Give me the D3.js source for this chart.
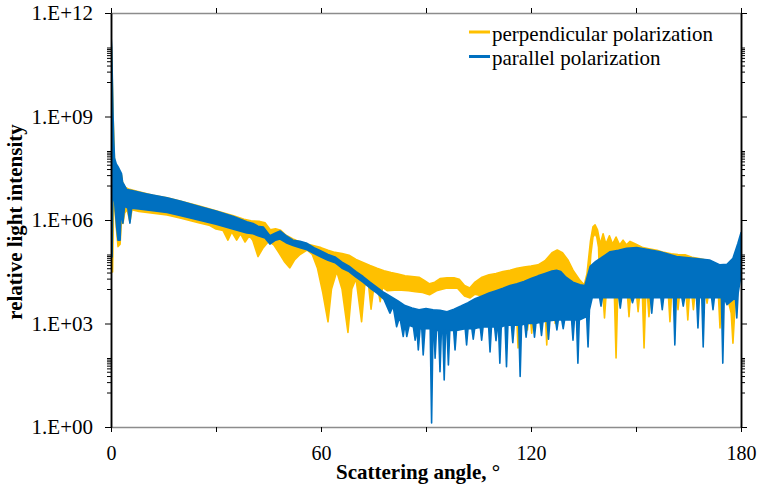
<!DOCTYPE html>
<html>
<head>
<meta charset="utf-8">
<script src="https://cdn.jsdelivr.net/npm/d3@7"></script>
<style>
body { margin: 0; background: #fff; }
</style>
</head>
<body>
<svg id="chart" width="760" height="488"></svg>
<script>
// [scattering angle (deg), relative intensity].
// the curves oscillate too fast to follow, so each one is kept as its
// upper and lower envelope; the deep dips sit in the lower envelope
const perpHigh = [
  [0, 2.0e11], [0.3, 2.0e10], [0.6, 1.0e9], [1.0, 5.0e7], [1.5, 3.2e7], [2.0, 2.5e7],
  [2.5, 2.2e7], [3.0, 2.0e7], [3.3, 1.26e7], [4.0, 8.9e6], [5, 7.9e6], [8, 6.6e6],
  [12, 5.2e6], [16, 4.4e6], [20, 3.5e6], [25, 2.6e6], [30, 1.86e6], [35, 1.32e6],
  [38, 1.05e6], [40, 9.5e5], [42.5, 9.1e5], [44, 8.3e5], [45.5, 5.2e5], [47, 5.6e5],
  [48.5, 5.0e5], [50, 3.6e5], [52, 2.8e5], [54, 2.3e5], [56, 2.0e5], [58, 1.78e5],
  [60, 1.58e5], [62, 1.32e5], [64, 1.15e5], [66, 1.07e5], [68, 9.5e4], [70, 7.2e4],
  [72, 5.9e4], [74, 4.8e4], [76, 4.0e4], [78, 3.4e4], [80, 3.0e4], [82, 2.7e4],
  [84, 2.4e4], [86, 2.3e4], [88, 2.2e4], [89.5, 1.78e4], [91, 1.41e4], [92.5, 1.58e4],
  [94, 2.0e4], [96, 2.1e4], [98, 2.1e4], [99.5, 1.9e4], [101, 1.26e4], [102.5, 1.07e4],
  [104, 1.58e4], [106, 2.2e4], [108, 2.6e4], [110, 2.8e4], [112, 3.2e4], [114, 3.5e4],
  [116, 4.0e4], [118, 4.3e4], [120, 4.6e4], [122, 5.0e4], [124, 6.6e4], [126, 1.12e5],
  [127.5, 1.35e5], [129, 1.12e5], [130.5, 7.1e4], [132, 3.5e4], [134, 1.78e4],
  [135.2, 1.32e4], [136, 2.8e4], [137, 2.5e5], [137.7, 6.3e5], [138.3, 7.2e5],
  [139, 5.2e5], [139.8, 2.0e5], [140.6, 4.0e5], [141.4, 2.0e5], [142.4, 3.5e5],
  [143.3, 2.0e5], [144.3, 3.2e5], [145.3, 1.9e5], [146.3, 2.6e5], [147.3, 1.9e5],
  [148.3, 2.4e5], [150, 2.0e5], [152, 1.58e5], [154, 1.45e5], [156, 1.32e5],
  [158, 1.15e5], [160, 1.05e5], [162, 1.0e5], [164, 9.8e4], [166, 8.3e4], [168, 7.6e4],
  [170, 6.9e4], [172, 6.0e4], [174, 4.5e4], [175.5, 4.0e4], [177, 3.2e4],
  [178.3, 3.5e4], [179.2, 7.9e4], [180, 2.0e5]
];
const perpLow = [
  [0, 6.3e10], [0.2, 3.2e8], [0.45, 3.1e4], [0.7, 1.58e6], [1.0, 4.0e6], [1.5, 6.3e5],
  [2.0, 1.7e5], [2.6, 2.0e5], [3.0, 1.0e6], [3.4, 7.9e5], [3.9, 1.58e6], [4.6, 2.0e6],
  [5.4, 8.9e5], [6.0, 2.0e6], [8, 1.78e6], [12, 1.58e6], [16, 1.41e6], [20, 1.12e6],
  [25, 8.3e5], [28, 7.1e5], [30, 5.5e5], [32, 5.0e5], [33.4, 2.6e5], [34.5, 4.5e5],
  [35.9, 2.6e5], [37, 4.0e5], [38.3, 2.3e5], [39.5, 3.5e5], [40.5, 2.6e5], [42, 8.7e4],
  [43.5, 1.58e5], [45, 2.4e5], [46.5, 1.9e5], [48, 1.12e5], [49.5, 6.3e4], [51.1, 4.1e4],
  [52.5, 7.1e4], [54, 1.0e5], [56, 1.35e5], [57.5, 1.0e5], [59, 4.0e4], [60.5, 7.9e3],
  [62, 1.12e3], [63, 1.0e4], [64.5, 3.2e4], [66, 1.0e4], [67.7, 550], [68.8, 1.0e4],
  [70, 2.0e4], [71.6, 1.12e3], [72.5, 1.26e4], [73.5, 1.58e4], [74.3, 2.6e3],
  [75.2, 1.41e4], [76.3, 1.0e4], [76.9, 4.3e3], [77.6, 1.12e4], [79, 8.9e3], [81, 9.3e3],
  [83, 9.3e3], [85, 8.9e3], [87, 8.3e3], [89, 7.9e3], [91, 6.8e3], [93, 8.9e3],
  [96, 1.07e4], [99, 1.05e4], [101, 6.3e3], [102.6, 5.5e3], [104, 7.1e3], [106, 6.3e3],
  [108, 5.0e3], [110, 4.0e3], [112, 3.5e3], [115.8, 2.8e3], [116.3, 195], [116.8, 2.8e3],
  [118.5, 2.5e3], [119, 650], [119.6, 2.5e3], [120.2, 525], [120.8, 2.8e3], [122, 3.2e3],
  [124, 3.2e3], [124.5, 240], [125, 3.5e3], [126.5, 4.0e3], [126.9, 1.0e3], [127.4, 5.0e3],
  [129, 5.0e3], [131, 4.0e3], [133, 2.8e3], [135, 2.5e3], [136, 4.0e3], [136.4, 1.0e4],
  [137.1, 1.0e5], [137.7, 3.2e5], [138.3, 4.0e5], [138.8, 3.2e5], [139.3, 1.6e5],
  [139.7, 7.9e3], [140.5, 7.9e3], [141, 1.45e3], [141.5, 7.9e3],
  [143.8, 7.9e3], [144.3, 100], [144.8, 7.9e3], [147.5, 7.9e3], [148, 1.58e3],
  [148.5, 7.9e3], [150.1, 7.9e3], [150.6, 2.2e3], [151.1, 7.9e3], [151.8, 7.9e3],
  [152.3, 195], [152.8, 7.9e3], [153.2, 7.9e3], [153.7, 1.58e3], [154.2, 7.9e3],
  [159.2, 7.9e3], [159.7, 1.12e3], [160.2, 7.9e3], [161.5, 7.9e3], [162, 2.5e3],
  [162.5, 7.9e3], [164.3, 7.9e3], [164.8, 1.26e3], [165.3, 7.9e3], [165.9, 7.9e3],
  [166.4, 2.5e3], [166.9, 7.9e3], [169.8, 7.9e3], [170.3, 3.9e3], [170.8, 7.9e3],
  [173.5, 7.9e3], [174, 740], [174.5, 7.9e3], [176, 6.3e3], [177.2, 2.0e3],
  [177.7, 270], [178.3, 3.2e3], [179.2, 1.58e4], [180, 6.3e4]
];
const paraHigh = [
  [0, 2.3e11], [0.2, 1.0e11], [0.4, 1.0e10], [0.6, 1.0e9], [0.8, 2.0e8], [1.0, 6.3e7],
  [1.5, 4.2e7], [2.0, 3.5e7], [2.5, 2.8e7], [3.0, 2.2e7], [3.3, 1.26e7], [3.6, 1.12e7],
  [4.5, 7.6e6], [6, 7.1e6], [10, 5.8e6], [16, 4.4e6], [20, 3.5e6], [25, 2.5e6],
  [30, 1.82e6], [35, 1.26e6], [38.8, 8.9e5], [40.6, 7.9e5], [42, 6.6e5], [43.5, 6.3e5],
  [45.4, 3.5e5], [47, 4.2e5], [48.3, 4.8e5], [50, 3.5e5], [52, 2.6e5], [54, 2.4e5],
  [56, 2.1e5], [58, 1.58e5], [60, 1.26e5], [62, 1.0e5], [64, 8.5e4], [66, 6.0e4],
  [68, 4.6e4], [70, 3.2e4], [72, 2.3e4], [74, 1.58e4], [76, 1.12e4], [78, 7.9e3],
  [80, 6.0e3], [82, 4.5e3], [84, 3.3e3], [86, 2.8e3], [88, 2.5e3], [90, 2.7e3],
  [92, 2.5e3], [94, 2.4e3], [96, 2.2e3], [98, 2.6e3], [100, 3.2e3], [102, 4.0e3],
  [104, 5.2e3], [106, 6.3e3], [108, 7.6e3], [110, 8.9e3], [112, 1.05e4], [114, 1.26e4],
  [116, 1.41e4], [118, 1.66e4], [120, 2.0e4], [122, 2.4e4], [124, 2.8e4], [126, 3.3e4],
  [127.3, 3.5e4], [128.5, 3.2e4], [130, 2.2e4], [132, 1.58e4], [134, 1.32e4],
  [135.4, 1.26e4], [136.9, 4.5e4], [138.5, 6.3e4], [140, 7.9e4], [142.6, 1.2e5],
  [145, 1.32e5], [147.3, 1.51e5], [150.2, 1.58e5], [153, 1.41e5], [156.9, 1.2e5],
  [161.6, 8.7e4], [166.4, 7.8e4], [171, 6.9e4], [174, 5.0e4], [176, 5.2e4],
  [177.7, 7.8e4], [179.1, 2.1e5], [180, 4.3e5]
];
const paraLow = [
  [0, 1.0e11], [0.15, 3.2e8], [0.3, 8.5e4], [0.5, 3.2e6], [0.8, 7.9e6], [1.2, 2.0e6],
  [1.6, 6.3e5], [2.0, 2.6e5], [2.6, 2.6e5], [2.9, 2.0e6], [3.4, 8.1e5], [3.9, 2.5e6],
  [4.8, 2.2e6], [5.4, 8.1e5], [5.9, 2.2e6], [8, 2.1e6], [12, 1.86e6], [16, 1.66e6],
  [20, 1.32e6], [25, 1.0e6], [30, 7.6e5], [35, 5.4e5], [38.8, 4.2e5], [40.6, 4.0e5],
  [42, 3.5e5], [44, 3.0e5], [45.4, 2.0e5], [47, 2.6e5], [48.3, 2.8e5], [50, 2.2e5],
  [52, 1.82e5], [54, 1.58e5], [56, 1.38e5], [58, 1.07e5], [60, 8.5e4], [62, 6.8e4],
  [64, 5.8e4], [66, 4.0e4], [68, 3.2e4], [70, 2.2e4], [72, 1.58e4], [74, 1.07e4],
  [76, 7.6e3], [78, 5.0e3], [79.7, 2.0e3], [80.6, 3.2e3], [81.6, 810], [82.5, 1.58e3],
  [83.5, 420], [84.0, 1.0e3], [84.5, 420], [85.2, 890], [86.4, 790], [86.9, 330],
  [87.4, 710], [87.8, 170], [88.3, 710], [88.8, 710], [89.2, 123], [89.7, 710],
  [91.2, 710], [91.6, 1.3], [92.0, 630], [92.3, 630], [92.6, 98], [93.0, 630],
  [93.6, 630], [94.0, 40], [94.4, 630], [94.8, 630], [95.2, 23], [95.6, 630],
  [96.0, 630], [96.4, 63], [96.8, 630], [97.9, 630], [98.3, 170], [98.7, 630],
  [101.2, 710], [101.6, 240], [102.0, 710], [103.1, 710], [103.5, 350], [103.9, 710],
  [105.5, 790], [105.9, 330], [106.3, 790], [107.9, 790], [108.3, 150], [108.7, 790],
  [109.6, 790], [110.0, 320], [110.4, 790], [110.7, 790], [111.1, 71], [111.5, 790],
  [112.6, 890], [113.0, 56], [113.4, 890], [114.4, 890], [114.8, 280], [115.2, 890],
  [116.5, 890], [116.9, 29], [117.3, 890], [118.2, 1.0e3], [118.6, 400], [119.0, 1.0e3],
  [120.6, 1.0e3], [121.0, 400], [121.4, 1.0e3], [122.6, 1.1e3], [123.0, 450],
  [123.4, 1.1e3], [124.6, 1.2e3], [125.0, 350], [125.4, 1.2e3], [127.0, 1.26e3],
  [127.4, 650], [127.8, 1.26e3], [128.8, 1.26e3], [129.2, 710], [129.6, 1.26e3],
  [131.6, 1.26e3], [132.0, 330], [132.4, 1.26e3], [133.0, 1.26e3], [133.4, 71],
  [133.8, 1.26e3], [135.9, 1.58e3], [136.3, 210], [136.7, 2.5e3], [137.5, 5.6e3],
  [139.6, 5.6e3], [140.0, 3.2e3], [140.4, 5.6e3], [145.1, 5.6e3], [145.5, 2.8e3],
  [145.9, 5.6e3], [148.6, 5.6e3], [149.0, 4.0e3], [149.4, 5.6e3], [154.1, 5.6e3],
  [154.5, 2.0e3], [154.9, 5.6e3], [157.1, 5.6e3], [157.5, 2.5e3], [157.9, 5.6e3],
  [160.7, 5.6e3], [161.1, 240], [161.5, 5.6e3], [163.1, 5.6e3], [163.5, 3.2e3],
  [163.9, 5.6e3], [167.3, 5.6e3], [167.7, 740], [168.1, 5.6e3], [168.8, 5.6e3],
  [169.2, 210], [169.6, 5.6e3], [171.6, 5.6e3], [172.0, 2.5e3], [172.4, 5.6e3],
  [174.4, 5.6e3], [174.8, 71], [175.2, 5.6e3], [176.0, 3.5e3], [178.4, 5.6e3],
  [178.8, 1.45e3], [179.2, 7.9e3], [180, 2.5e4]
];

const angleTicks = [0, 30, 60, 90, 120, 150, 180];
const angleLabels = [0, 60, 120, 180];
const intensityTicks = [1e0, 1e3, 1e6, 1e9, 1e12];
const seriesNames = ["perpendicular polarization", "parallel polarization"];
const seriesColors = ["#FFC000", "#0070C0"];

const serif = "'Liberation Serif', 'Times New Roman', 'DejaVu Serif', serif";

var margin = {top : 13, right : 19, bottom : 61, left : 111},
    width = 760 - margin.left - margin.right,
    height = 488 - margin.top - margin.bottom;

var svg = d3.select("#chart");

var x = d3.scaleLinear().domain([ 0, 180 ]).range([ margin.left, margin.left + width ]);
var y = d3.scaleLog().domain([ 1, 1e12 ]).range([ margin.top + height, margin.top ]);

// minor ticks: 10..100 times each labelled power, like the original axis
var minorTicks = [];
intensityTicks.slice(0, -1).forEach(m => {
    for (var k = 1; k <= 10; k++) minorTicks.push(m * 10 * k);
});

svg.append("defs").append("clipPath").attr("id", "clip")
    .append("rect")
    .attr("x", margin.left).attr("y", margin.top)
    .attr("width", width).attr("height", height);

// envelope band: upper edge left to right, lower edge back again
var line = d3.line().x(d => x(d[0])).y(d => y(d[1]));
function band(hi, lo) { return line(hi.concat(lo.slice().reverse())) + "Z"; }

var plot = svg.append("g").attr("clip-path", "url(#clip)");
[[perpHigh, perpLow], [paraHigh, paraLow]].forEach((s, i) => {
    plot.append("path")
        .attr("d", band(s[0], s[1]))
        .attr("fill", seriesColors[i])
        .attr("stroke", seriesColors[i])
        .attr("stroke-width", 1.6)
        .attr("stroke-linejoin", "round");
});

function fmt(d) {
    return "1.E+" + String(Math.round(Math.log10(d))).padStart(2, "0");
}

function style(g, lineColor, size) {
    g.attr("font-family", serif).attr("font-size", size);
    g.selectAll("text").attr("font-family", serif).attr("fill", "#000");
    g.select(".domain").attr("stroke", lineColor).attr("stroke-width", 1.5);
    g.selectAll(".tick line").attr("stroke", "#000");
}

// bottom / top axes (grey lines)
var gb = svg.append("g").attr("transform", "translate(0," + (margin.top + height) + ")")
    .call(d3.axisBottom(x).tickValues(angleTicks).tickSize(5).tickSizeOuter(0).tickPadding(14)
        .tickFormat(d => angleLabels.includes(d) ? d : ""));
style(gb, "#8c8c8c", 20);

var gt = svg.append("g").attr("transform", "translate(0," + margin.top + ")")
    .call(d3.axisTop(x).tickValues(angleTicks).tickSize(5).tickSizeOuter(0).tickFormat(""));
style(gt, "#8c8c8c", 20);

// left / right axes (black lines)
var gl = svg.append("g").attr("transform", "translate(" + margin.left + ",0)")
    .call(d3.axisLeft(y).tickValues(minorTicks).tickSize(4).tickSizeOuter(0).tickFormat(""));
style(gl, "#000", 21);
var glm = svg.append("g").attr("transform", "translate(" + margin.left + ",0)")
    .call(d3.axisLeft(y).tickValues(intensityTicks).tickSize(6).tickSizeOuter(0)
        .tickPadding(12).tickFormat(fmt));
style(glm, "#000", 21);

var gr = svg.append("g").attr("transform", "translate(" + (margin.left + width) + ",0)")
    .call(d3.axisRight(y).tickValues(minorTicks).tickSize(4).tickSizeOuter(0).tickFormat(""));
style(gr, "#000", 21);
var grm = svg.append("g").attr("transform", "translate(" + (margin.left + width) + ",0)")
    .call(d3.axisRight(y).tickValues(intensityTicks).tickSize(6).tickSizeOuter(0).tickFormat(""));
style(grm, "#000", 21);

// axis titles
svg.append("text")
    .attr("x", 336).attr("y", 479)
    .attr("font-family", serif).attr("font-size", 21).attr("font-weight", "bold")
    .text("Scattering angle, °");

svg.append("text")
    .attr("transform", "translate(22,222) rotate(-90)")
    .attr("text-anchor", "middle")
    .attr("font-family", serif).attr("font-size", 21).attr("font-weight", "bold")
    .text("relative light intensity");

// legend
var legend = svg.append("g").attr("transform", "translate(469,32)");
seriesNames.forEach((name, i) => {
    legend.append("line")
        .attr("x1", 0).attr("x2", 21)
        .attr("y1", i * 24.5).attr("y2", i * 24.5)
        .attr("stroke", seriesColors[i]).attr("stroke-width", 3);
    legend.append("text")
        .attr("x", 23).attr("y", i * 24.5 + 8.5)
        .attr("font-family", serif).attr("font-size", 21)
        .text(name);
});
</script>
</body>
</html>
